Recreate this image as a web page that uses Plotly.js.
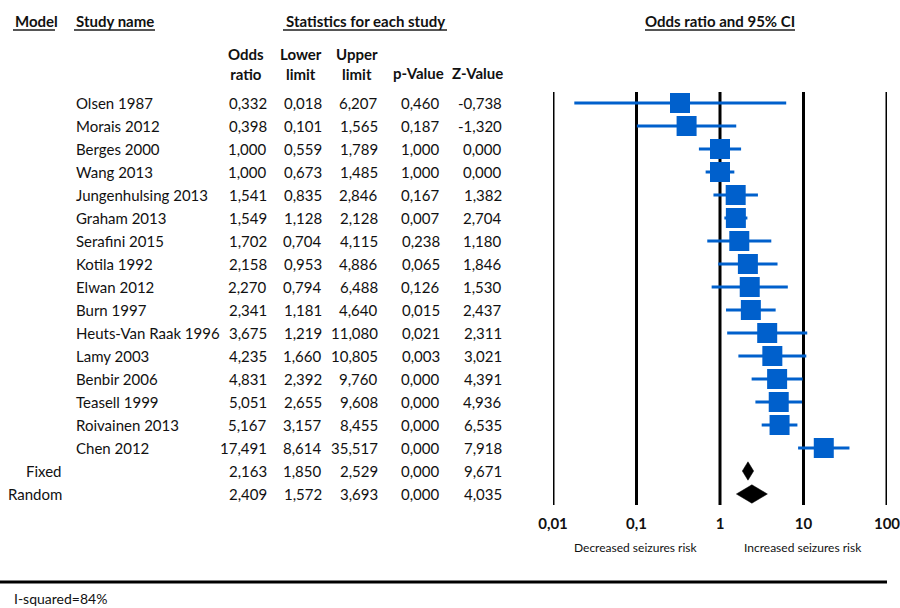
<!DOCTYPE html>
<html>
<head>
<meta charset="utf-8">
<script src="https://cdn.plot.ly/plotly-3.0.1.min.js"></script>
<style>html,body{margin:0;padding:0;background:#fff;}#chart{width:900px;height:608px;}</style>
</head>
<body>
<div id="chart"></div>
<script>
// ---- data ----
const studies = ["Olsen 1987","Morais 2012","Berges 2000","Wang 2013","Jungenhulsing 2013","Graham 2013","Serafini 2015","Kotila 1992","Elwan 2012","Burn 1997","Heuts-Van Raak 1996","Lamy 2003","Benbir 2006","Teasell 1999","Roivainen 2013","Chen 2012"];
const oddsRatio  = [0.332,0.398,1.000,1.000,1.541,1.549,1.702,2.158,2.270,2.341,3.675,4.235,4.831,5.051,5.167,17.491];
const lowerLimit = [0.018,0.101,0.559,0.673,0.835,1.128,0.704,0.953,0.794,1.181,1.219,1.660,2.392,2.655,3.157,8.614];
const upperLimit = [6.207,1.565,1.789,1.485,2.846,2.128,4.115,4.886,6.488,4.640,11.080,10.805,9.760,9.608,8.455,35.517];
const pValue     = [0.460,0.187,1.000,1.000,0.167,0.007,0.238,0.065,0.126,0.015,0.021,0.003,0.000,0.000,0.000,0.000];
const zValue     = [-0.738,-1.320,0.000,0.000,1.382,2.704,1.180,1.846,1.530,2.437,2.311,3.021,4.391,4.936,6.535,7.918];

const models      = ["Fixed","Random"];
const modelOR     = [2.163,2.409];
const modelLower  = [1.850,1.572];
const modelUpper  = [2.529,3.693];
const modelP      = [0.000,0.000];
const modelZ      = [9.671,4.035];

const tickVals = [0.01,0.1,1,10,100];
const tickText = ["0,01","0,1","1","10","100"];

// ---- layout helpers ----
const W = 900, H = 608;
const FONT = "Lato, 'Open Sans', sans-serif";
const TXT = "#111";
const BLUE = "#0060cc";
const px = v => v / W;
const py = v => 1 - v / H;
const fmt = v => v.toFixed(3).replace(".", ",");

const nStudies = studies.length;
const studyRows = studies.map((_, i) => i);
const modelRows = models.map((_, i) => nStudies + i);
const lastRow = nStudies + models.length - 1;

const traces = [];

// vertical reference lines at ticks
tickVals.forEach(v => {
  traces.push({x:[v,v], y:[-0.48, lastRow + 0.48], mode:"lines", type:"scatter",
    line:{color:"#000", width:3}, hoverinfo:"skip", showlegend:false});
});

// CI lines
const ciX = [], ciY = [];
studies.forEach((_, i) => { ciX.push(lowerLimit[i], upperLimit[i], null); ciY.push(studyRows[i], studyRows[i], null); });
traces.push({x:ciX, y:ciY, mode:"lines", type:"scatter", line:{color:BLUE, width:3}, hoverinfo:"skip", showlegend:false});

// squares
traces.push({x:oddsRatio, y:studyRows, mode:"markers", type:"scatter",
  marker:{symbol:"square", size:20, color:BLUE, line:{width:0}}, hoverinfo:"skip", showlegend:false});

// diamonds
const dh = 0.4;
models.forEach((_, i) => {
  const r = modelRows[i];
  traces.push({x:[modelLower[i], modelOR[i], modelUpper[i], modelOR[i], modelLower[i]],
    y:[r, r - dh, r, r + dh, r], mode:"lines", fill:"toself", fillcolor:"#000",
    line:{color:"#000", width:0.5}, type:"scatter", hoverinfo:"skip", showlegend:false});
});

// ---- annotations ----
const ann = [];
const cell = (text, xPix, row, anchor, opts={}) => ann.push(Object.assign({
  text, x:px(xPix), xref:"paper", y:row, yref:"y", xanchor:anchor, yanchor:"middle",
  showarrow:false, font:{family:FONT, size:15, color:TXT}}, opts));

const colRight = [269, 324, 380, 442, 504];
studies.forEach((s, i) => {
  const r = studyRows[i];
  cell(s, 74, r, "left");
  [oddsRatio[i], lowerLimit[i], upperLimit[i], pValue[i], zValue[i]].forEach((v, k) => cell(fmt(v), colRight[k], r, "right"));
});
models.forEach((m, i) => {
  const r = modelRows[i];
  cell(m, 64, r, "right");
  [modelOR[i], modelLower[i], modelUpper[i], modelP[i], modelZ[i]].forEach((v, k) => cell(fmt(v), colRight[k], r, "right"));
});

const head = (text, xPix, yPix, anchor, size=15, bold=true) => ann.push({
  text, x:px(xPix), xref:"paper", y:py(yPix), yref:"paper", xanchor:anchor, yanchor:"middle",
  showarrow:false, font:{family:FONT, size, color:TXT, weight: bold ? "bold" : "normal"}});

head("Model", 13, 21, "left");
head("Study name", 74, 21, "left");
head("Statistics for each study", 365, 21, "center");
head("Odds ratio and 95% CI", 720, 21, "center");
head("Odds<br>ratio", 246, 64, "center");
head("Lower<br>limit", 301, 64, "center");
head("Upper<br>limit", 357, 64, "center");
head("p-Value", 418, 73, "center");
head("Z-Value", 477, 73, "center");
head("Decreased seizures risk", 636, 547, "center", 12, false);
head("Increased seizures risk", 803, 547, "center", 12, false);
head("I-squared=84%", 12, 598, "left", 14, false);

// underlines and bottom rule
const shapes = [
  [13, 55], [74, 155], [283, 447], [645, 795]
].map(([a, b]) => ({type:"line", xref:"paper", yref:"paper", x0:px(a), x1:px(b), y0:py(30), y1:py(30),
  line:{color:"#555", width:2}}));
shapes.push({type:"line", xref:"paper", yref:"paper", x0:0, x1:px(887), y0:py(582), y1:py(582), line:{color:"#000", width:3}});

const layout = {
  width:W, height:H, margin:{l:0, r:0, t:0, b:0},
  paper_bgcolor:"#fff", plot_bgcolor:"rgba(0,0,0,0)",
  showlegend:false,
  xaxis:{type:"log", range:[-2, 2], domain:[px(553), px(887)], anchor:"free", position:py(513),
    tickvals:tickVals, ticktext:tickText, ticks:"", showgrid:false, zeroline:false, showline:false,
    ticklabeloverflow:"allow",
    tickfont:{family:FONT, size:15, color:TXT, weight:"bold"}, fixedrange:true},
  yaxis:{range:[(H - 103) / 23, -103 / 23], domain:[0, 1], visible:false, showgrid:false, zeroline:false, fixedrange:true},
  annotations:ann, shapes
};

Plotly.newPlot("chart", traces, layout, {staticPlot:true, displayModeBar:false});
</script>
</body>
</html>
